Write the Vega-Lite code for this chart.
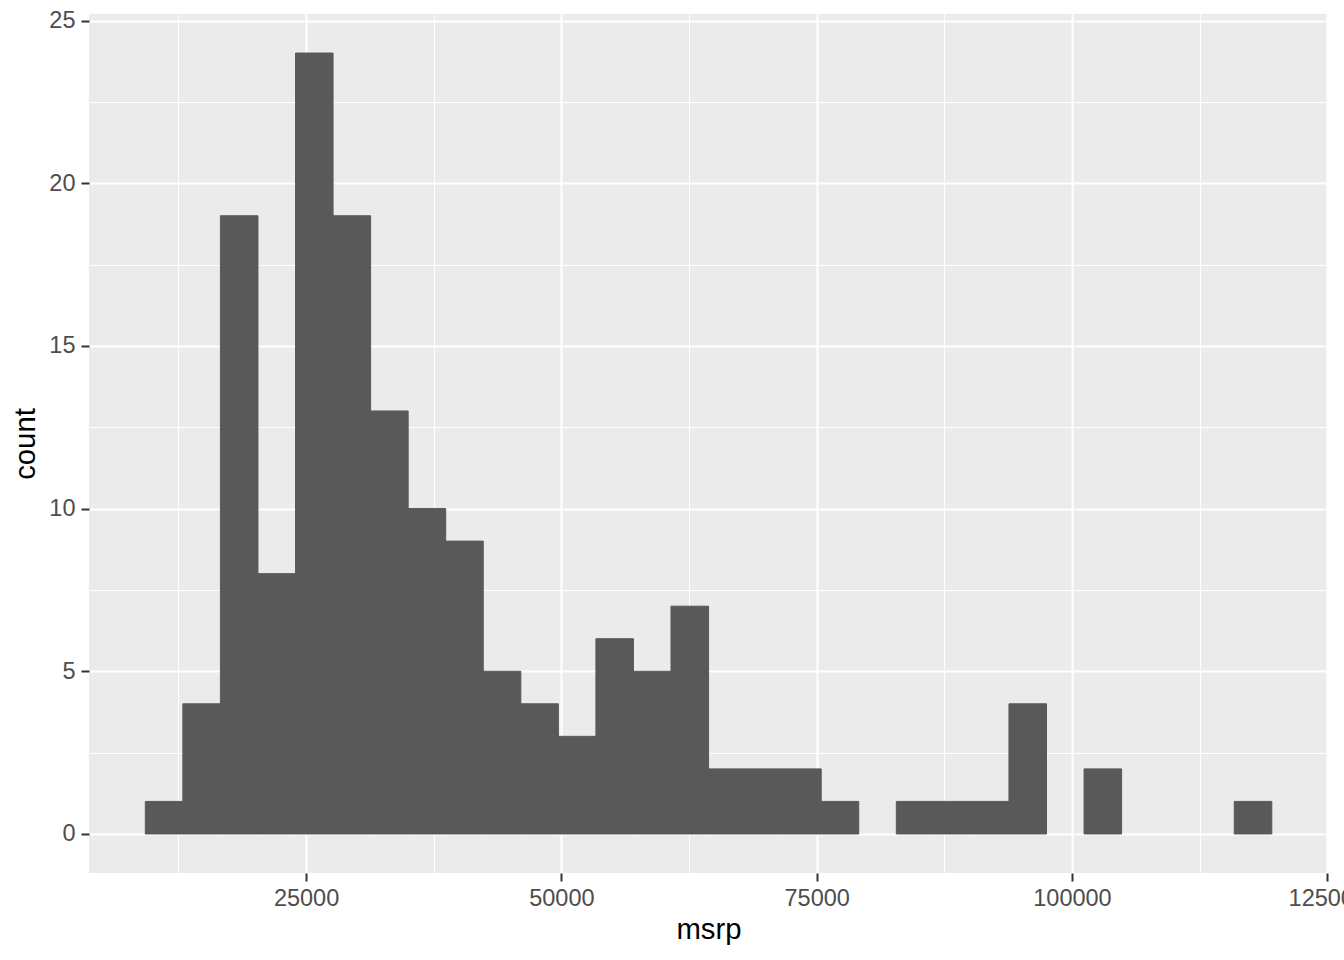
{
  "$schema": "https://vega.github.io/schema/vega-lite/v6.json",
  "width": 1239,
  "height": 859,
  "autosize": {"type": "none"},
  "padding": {"left": 89, "top": 14, "right": 16, "bottom": 87},
  "background": "white",
  "view": {"fill": "#EBEBEB", "stroke": null},
  "data": {
    "values": [
      {"bin_start": 9258, "bin_end": 12935, "count": 1},
      {"bin_start": 12935, "bin_end": 16612, "count": 4},
      {"bin_start": 16612, "bin_end": 20289, "count": 19},
      {"bin_start": 20289, "bin_end": 23966, "count": 8},
      {"bin_start": 23966, "bin_end": 27643, "count": 24},
      {"bin_start": 27643, "bin_end": 31320, "count": 19},
      {"bin_start": 31320, "bin_end": 34997, "count": 13},
      {"bin_start": 34997, "bin_end": 38674, "count": 10},
      {"bin_start": 38674, "bin_end": 42351, "count": 9},
      {"bin_start": 42351, "bin_end": 46028, "count": 5},
      {"bin_start": 46028, "bin_end": 49705, "count": 4},
      {"bin_start": 49705, "bin_end": 53382, "count": 3},
      {"bin_start": 53382, "bin_end": 57059, "count": 6},
      {"bin_start": 57059, "bin_end": 60736, "count": 5},
      {"bin_start": 60736, "bin_end": 64413, "count": 7},
      {"bin_start": 64413, "bin_end": 68090, "count": 2},
      {"bin_start": 68090, "bin_end": 71767, "count": 2},
      {"bin_start": 71767, "bin_end": 75444, "count": 2},
      {"bin_start": 75444, "bin_end": 79121, "count": 1},
      {"bin_start": 79121, "bin_end": 82798, "count": 0},
      {"bin_start": 82798, "bin_end": 86475, "count": 1},
      {"bin_start": 86475, "bin_end": 90152, "count": 1},
      {"bin_start": 90152, "bin_end": 93829, "count": 1},
      {"bin_start": 93829, "bin_end": 97506, "count": 4},
      {"bin_start": 97506, "bin_end": 101183, "count": 0},
      {"bin_start": 101183, "bin_end": 104860, "count": 2},
      {"bin_start": 104860, "bin_end": 108537, "count": 0},
      {"bin_start": 108537, "bin_end": 112214, "count": 0},
      {"bin_start": 112214, "bin_end": 115891, "count": 0},
      {"bin_start": 115891, "bin_end": 119568, "count": 1}
    ]
  },
  "transform": [{"filter": "datum.count > 0"}],
  "mark": {"type": "rect", "fill": "#595959", "stroke": "#595959", "strokeWidth": 1, "opacity": 1, "fillOpacity": 1, "strokeOpacity": 1},
  "encoding": {
    "x": {
      "field": "bin_start",
      "type": "quantitative",
      "title": "msrp",
      "scale": {"domain": [3743, 125071], "nice": false, "zero": false},
      "axis": {
        "values": [12500, 25000, 37500, 50000, 62500, 75000, 87500, 100000, 112500, 125000],
        "labelExpr": "datum.value % 25000 === 0 ? format(datum.value, 'd') : ''",
        "gridWidth": {"condition": {"test": "datum.value % 25000 === 0", "value": 2}, "value": 1},
        "tickOpacity": {"condition": {"test": "datum.value % 25000 === 0", "value": 1}, "value": 0},
        "labelFlush": false,
        "labelOverlap": false,
        "labelPadding": 5,
        "titlePadding": 6
      }
    },
    "x2": {"field": "bin_end"},
    "y": {
      "field": "count",
      "type": "quantitative",
      "title": "count",
      "scale": {"domain": [-1.2, 25.2], "nice": false, "zero": false},
      "axis": {
        "values": [0, 2.5, 5, 7.5, 10, 12.5, 15, 17.5, 20, 22.5, 25],
        "labelExpr": "datum.value % 5 === 0 ? format(datum.value, 'd') : ''",
        "gridWidth": {"condition": {"test": "datum.value % 5 === 0", "value": 2}, "value": 1},
        "tickOpacity": {"condition": {"test": "datum.value % 5 === 0", "value": 1}, "value": 0},
        "labelFlush": false,
        "labelPadding": 6,
        "titlePadding": 8
      }
    },
    "y2": {"datum": 0}
  },
  "config": {
    "font": "Liberation Sans",
    "axis": {
      "domain": false,
      "grid": true,
      "gridColor": "#FFFFFF",
      "gridOpacity": 1,
      "tickColor": "#333333",
      "tickSize": 8,
      "tickWidth": 2,
      "labelColor": "#4D4D4D",
      "labelFont": "Liberation Sans",
      "labelFontSize": 23.5,
      "titleFont": "Liberation Sans",
      "titleFontSize": 29.3,
      "titleFontWeight": "normal",
      "titleColor": "#000000"
    }
  }
}
